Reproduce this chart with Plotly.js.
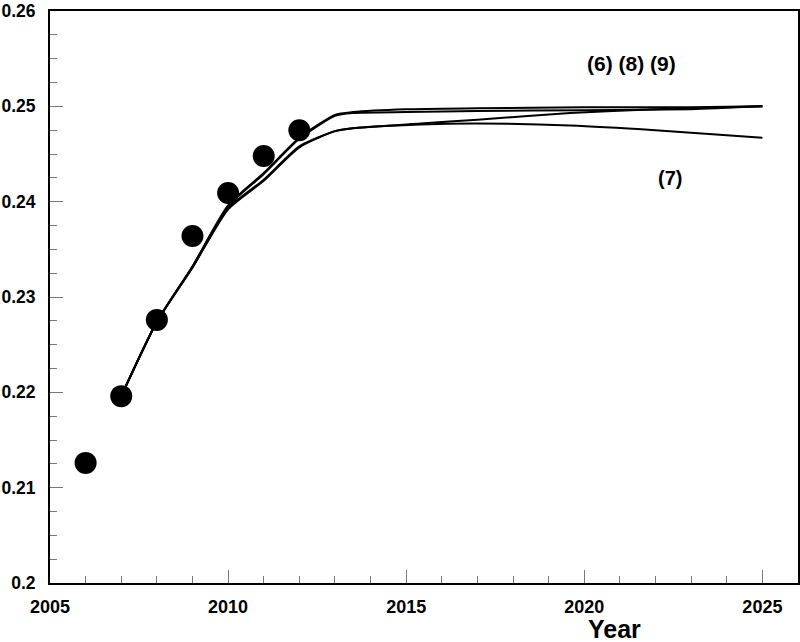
<!DOCTYPE html>
<html>
<head>
<meta charset="utf-8">
<script src="https://cdn.plot.ly/plotly-3.0.1.min.js"></script>
<style>
  body { margin: 0; background: #fff; }
  #plot { width: 800px; height: 642px; }
</style>
</head>
<body>
<div id="plot"></div>
<script>
// observed points (filled circles)
const obsYears = [2006, 2007, 2008, 2009, 2010, 2011, 2012];
const obsValues = [0.2126, 0.2196, 0.2276, 0.2364, 0.2409, 0.2448, 0.2475];

// model curves
const yearsA = [2007, 2008, 2009, 2010, 2011, 2012, 2013, 2013.5, 2015, 2017, 2020, 2023, 2025];
const line6 = [0.2196, 0.2274, 0.2332, 0.2396, 0.2430, 0.2467, 0.2491, 0.2494, 0.2497, 0.2498, 0.2499, 0.2499, 0.2500];
const line8 = [0.2196, 0.2274, 0.2332, 0.2395, 0.2429, 0.2466, 0.2490, 0.2493, 0.2494, 0.2495, 0.2496, 0.2497, 0.2500];

const yearsB = [2007, 2008, 2009, 2010, 2011, 2012, 2013, 2013.5, 2015.4, 2017, 2019.6, 2022, 2025];
const line9 = [0.2196, 0.2274, 0.2331, 0.2393, 0.2423, 0.2458, 0.2474, 0.2477, 0.2482, 0.2486, 0.2493, 0.2497, 0.2500];
const line7 = [0.2196, 0.2274, 0.2331, 0.2392, 0.2422, 0.2457, 0.2474, 0.2477, 0.2481, 0.2482, 0.2480, 0.2475, 0.2467];

const boldFont = { family: 'Liberation Sans, Arial, sans-serif', color: '#000', weight: 'bold' };

function curve(x, y) {
    return {
        x: x, y: y,
        mode: 'lines',
        type: 'scatter',
        line: { color: '#000', width: 2, shape: 'spline', smoothing: 0.6 },
        hoverinfo: 'skip'
    };
}

const traces = [
    curve(yearsA, line6),
    curve(yearsA, line8),
    curve(yearsB, line9),
    curve(yearsB, line7),
    {
        x: obsYears, y: obsValues,
        mode: 'markers',
        type: 'scatter',
        marker: { size: 22, color: '#000' }
    }
];

const layout = {
    width: 800,
    height: 642,
    margin: { l: 50, r: 2, t: 11, b: 59 },
    showlegend: false,
    plot_bgcolor: '#fff',
    paper_bgcolor: '#fff',
    xaxis: {
        range: [2005, 2026],
        tick0: 2005,
        dtick: 5,
        ticks: 'inside',
        ticklen: 13,
        tickwidth: 1,
        tickcolor: '#777',
        showgrid: false,
        zeroline: false,
        showline: true,
        linecolor: '#000',
        linewidth: 2,
        mirror: true,
        ticklabelstandoff: 6,
        tickfont: Object.assign({ size: 18 }, boldFont),
        minor: { dtick: 1, ticks: 'inside', ticklen: 7, tickcolor: '#777', showgrid: false }
    },
    yaxis: {
        range: [0.2, 0.260001],
        tickvals: [0.2, 0.21, 0.22, 0.23, 0.24, 0.25, 0.26],
        ticktext: ['0.2', '0.21', '0.22', '0.23', '0.24', '0.25', '0.26'],
        ticks: 'inside',
        ticklen: 13,
        tickwidth: 1,
        tickcolor: '#777',
        showgrid: false,
        zeroline: false,
        showline: true,
        linecolor: '#000',
        linewidth: 2,
        mirror: true,
        ticklabelstandoff: 9,
        ticklabeloverflow: 'allow',
        tickfont: Object.assign({ size: 17.5 }, boldFont),
        minor: { tick0: 0.2, dtick: 0.0025, ticks: 'inside', ticklen: 7, tickcolor: '#777', showgrid: false }
    },
    annotations: [
        { x: 2021.33, y: 0.25453, text: '(6) (8) (9)', showarrow: false,
          font: Object.assign({ size: 21 }, boldFont) },
        { x: 2022.42, y: 0.2425, text: '(7)', showarrow: false,
          font: Object.assign({ size: 20 }, boldFont) },
        { x: 2020.84, xref: 'x', y: -0.08, yref: 'paper', yanchor: 'middle', text: 'Year',
          showarrow: false, font: Object.assign({ size: 25 }, boldFont) }
    ]
};

Plotly.newPlot('plot', traces, layout, { displayModeBar: false, staticPlot: true });
</script>
</body>
</html>
